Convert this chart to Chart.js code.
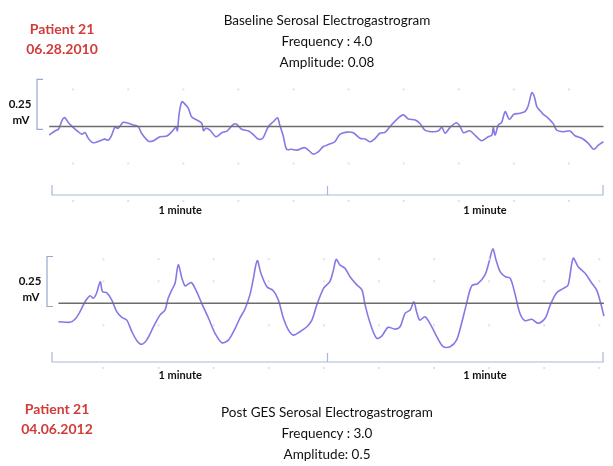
<!DOCTYPE html>
<html>
<head>
<meta charset="utf-8">
<script src="https://cdn.jsdelivr.net/npm/chart.js@4.4.1/dist/chart.umd.min.js"></script>
<style>
body{margin:0;background:#fff;}
#wrap{position:relative;width:613px;height:466px;overflow:hidden;font-family:Lato,"Open Sans",sans-serif;}
canvas{position:absolute;left:0;}
.t{position:absolute;white-space:nowrap;transform:translate(-50%,-50%);color:#111;font-size:13.5px;}
.red{color:#d03c3a;font-weight:bold;font-size:14px;}
.mv{font-weight:bold;font-size:11.5px;color:#111;}
</style>
</head>
<body>
<div id="wrap">
  <canvas id="top" width="613" height="233" style="top:0"></canvas>
  <canvas id="bottom" width="613" height="233" style="top:233px"></canvas>

  <div class="t red" style="left:62px;top:28px">Patient 21</div>
  <div class="t red" style="left:62px;top:48px">06.28.2010</div>
  <div class="t" style="left:327px;top:20px">Baseline Serosal Electrogastrogram</div>
  <div class="t" style="left:327px;top:41px">Frequency : 4.0</div>
  <div class="t" style="left:327px;top:62px">Amplitude: 0.08</div>
  <div class="t mv" style="left:20px;top:103px">0.25</div>
  <div class="t mv" style="left:21px;top:119px">mV</div>

  <div class="t mv" style="left:30px;top:280px">0.25</div>
  <div class="t mv" style="left:31px;top:296px">mV</div>
  <div class="t red" style="left:57px;top:408px">Patient 21</div>
  <div class="t red" style="left:57px;top:428px">04.06.2012</div>
  <div class="t" style="left:327px;top:412px">Post GES Serosal Electrogastrogram</div>
  <div class="t" style="left:327px;top:433px">Frequency : 3.0</div>
  <div class="t" style="left:327px;top:454px">Amplitude: 0.5</div>
</div>
<script>
// baseline recording (06.28.2010), time in seconds, signal in mV
var baseTime = [-0.6,0.7,1.4,2.3,2.8,3.6,4.6,5.7,6.5,7.2,7.9,9.0,10.5,11.5,12.3,13.0,13.7,14.4,15.5,16.6,17.7,18.8,19.5,21.0,22.1,23.5,25.0,26.1,27.0,27.3,27.7,28.3,29.1,29.7,30.4,31.5,32.6,33.0,33.5,34.4,35.7,37.0,38.1,39.5,40.2,41.3,42.8,43.8,44.9,45.9,47.1,48.2,49.1,49.6,50.4,51.1,52.2,53.3,55.1,56.9,58.0,59.1,60.5,61.6,62.7,64.2,65.6,67.1,68.2,69.3,70.4,71.4,72.5,73.6,75.1,76.5,77.6,79.1,80.1,81.2,82.7,84.1,84.9,85.6,86.7,88.1,88.9,89.6,91.0,92.1,93.6,95.0,95.8,96.1,96.5,97.2,97.9,98.7,99.6,100.6,101.9,103.0,103.7,104.5,105.0,105.6,106.3,107.0,108.1,109.2,109.9,111.4,112.8,113.9,115.4,116.8,118.0,119.0,120.1];
var baseMv = [-0.043,-0.021,-0.014,0.036,0.044,0.019,-0.004,-0.026,-0.038,-0.031,-0.059,-0.081,-0.071,-0.063,-0.068,-0.043,-0.004,-0.009,0.021,0.016,0.008,-0.001,-0.034,-0.073,-0.071,-0.051,-0.048,-0.026,-0.004,-0.021,0.066,0.124,0.108,0.091,0.049,0.033,0.016,-0.021,-0.009,-0.018,-0.051,-0.031,-0.023,0.011,0.011,-0.014,-0.023,-0.039,-0.063,-0.059,-0.001,0.024,0.044,0.008,-0.051,-0.114,-0.114,-0.118,-0.106,-0.138,-0.126,-0.100,-0.088,-0.076,-0.039,-0.028,-0.031,-0.059,-0.063,-0.076,-0.059,-0.034,-0.029,-0.001,0.036,0.058,0.038,0.033,0.016,-0.018,-0.026,-0.023,-0.004,-0.034,-0.004,0.019,-0.001,-0.031,-0.021,-0.043,-0.071,-0.051,-0.043,-0.004,-0.043,0.008,0.019,0.074,0.036,0.061,0.066,0.074,0.103,0.169,0.153,0.099,0.079,0.061,0.041,0.013,-0.018,-0.026,-0.023,-0.046,-0.059,-0.084,-0.114,-0.093,-0.076];

// post GES recording (04.06.2012)
var postTime = [1.4,3.9,5.0,6.1,7.2,8.3,9.0,9.7,10.5,11.0,11.9,13.0,14.1,15.2,16.3,17.4,18.5,19.5,20.6,22.1,23.5,24.6,25.3,26.1,26.8,27.5,28.3,29.0,29.7,30.4,31.5,32.6,34.0,35.5,37.0,38.4,39.9,40.9,42.0,43.1,43.8,44.7,45.5,46.8,48.2,49.3,50.4,51.5,52.6,54.0,55.5,56.6,57.7,59.2,60.5,61.3,61.9,62.7,63.8,64.9,66.4,67.5,68.2,69.3,70.7,71.8,73.2,74.7,75.8,76.9,78.0,78.8,79.4,80.1,81.2,82.3,83.8,85.2,86.7,88.1,89.2,90.2,91.4,92.8,94.3,95.2,96.0,96.7,97.6,98.7,99.8,100.8,101.9,103.0,104.5,105.9,107.4,108.5,109.9,111.4,112.4,113.5,114.6,116.1,117.5,118.6,119.5,120.2];
var postMv = [-0.092,-0.095,-0.080,-0.042,0.008,0.038,0.025,0.050,0.108,0.058,0.053,0.017,-0.042,-0.070,-0.084,-0.142,-0.187,-0.205,-0.184,-0.117,-0.059,-0.034,0.025,0.067,0.100,0.192,0.125,0.087,0.097,0.103,0.058,0.000,-0.070,-0.150,-0.197,-0.184,-0.125,-0.075,-0.030,0.042,0.117,0.213,0.150,0.083,0.063,0.017,-0.075,-0.134,-0.159,-0.142,-0.117,-0.084,-0.006,0.077,0.108,0.167,0.220,0.192,0.175,0.133,0.092,0.067,-0.009,-0.100,-0.175,-0.164,-0.120,-0.129,-0.117,-0.050,-0.034,0.008,-0.042,-0.084,-0.067,-0.100,-0.167,-0.217,-0.217,-0.184,-0.100,-0.009,0.087,0.100,0.142,0.208,0.272,0.217,0.158,0.133,0.125,0.050,-0.050,-0.087,-0.080,-0.100,-0.075,-0.009,0.053,0.075,0.092,0.225,0.183,0.150,0.103,0.067,0.000,-0.064];

var baseRefTime = [-0.6, 120.1];   // grey zero line, top
var postRefTime = [1.4, 120.2];    // grey zero line, bottom
var bracketTime = [0, 60, 120];    // two one-minute spans
var minuteLabelTime = [27.9, 94.3];
var minuteLabels = ['1 minute', '1 minute'];
var scaleBarMv = 0.25;
var gridTimeTop = [4.6, 16.6, 28.6, 40.6, 52.6, 64.6, 76.6, 88.6, 100.6, 112.6];
var gridMvTop = [0.185, -0.185];
var gridTimePost = [11.2, 23.2, 35.2, 47.2, 59.2, 71.2, 83.2, 95.2, 107.2, 119.2];
var gridMvPost = [0.22, 0.11, -0.11];

function pts(t, v) {
  return t.map(function (x, i) { return { x: x, y: v[i] }; });
}

var decoPlugin = {
  id: 'egg',
  afterDatasetsDraw: function (chart, args, o) {
    var ctx = chart.ctx, xs = chart.scales.x, ys = chart.scales.y;
    ctx.save();
    // faint grid dots
    ctx.fillStyle = '#e2e2e2';
    o.gridT.forEach(function (t) {
      o.gridV.forEach(function (v) {
        ctx.fillRect(xs.getPixelForValue(t) - 1, ys.getPixelForValue(v) - 1, 2, 2);
      });
      ctx.fillRect(xs.getPixelForValue(t) - 1, o.bracketY + 5, 2, 2);
    });
    // time bracket
    ctx.strokeStyle = '#a6b9d6';
    ctx.lineWidth = 1.2;
    var x0 = xs.getPixelForValue(bracketTime[0]);
    var x1 = xs.getPixelForValue(bracketTime[1]);
    var x2 = xs.getPixelForValue(bracketTime[2]);
    ctx.beginPath();
    ctx.moveTo(x0, o.bracketY - 10); ctx.lineTo(x0, o.bracketY);
    ctx.lineTo(x2, o.bracketY); ctx.lineTo(x2, o.bracketY - 10);
    ctx.moveTo(x1, o.bracketY); ctx.lineTo(x1, o.bracketY - 9);
    ctx.stroke();
    // mV scale bar
    var yl = ys.getPixelForValue(o.barLow), yh = ys.getPixelForValue(o.barLow + scaleBarMv);
    ctx.strokeStyle = '#94a9cd';
    ctx.beginPath();
    ctx.moveTo(o.barX + 6, yh); ctx.lineTo(o.barX, yh);
    ctx.lineTo(o.barX, yl); ctx.lineTo(o.barX + 6, yl);
    ctx.stroke();
    // minute labels
    ctx.fillStyle = '#111';
    ctx.font = 'bold 11px Lato, sans-serif';
    ctx.textAlign = 'center';
    ctx.textBaseline = 'middle';
    minuteLabelTime.forEach(function (t, i) {
      ctx.fillText(minuteLabels[i], xs.getPixelForValue(t), o.bracketY + o.labelGap);
    });
    ctx.restore();
  }
};

function makeChart(id, traceT, traceV, refT, pad, deco) {
  return new Chart(document.getElementById(id).getContext('2d'), {
    type: 'line',
    data: {
      datasets: [{
        data: pts(refT, [0, 0]),
        borderColor: '#6c6c6c',
        borderWidth: 1.5,
        clip: false
      }, {
        data: pts(traceT, traceV),
        borderColor: 'rgba(118,108,226,0.9)',
        borderWidth: 1.6,
        tension: 0.3,
        clip: false
      }]
    },
    options: {
      responsive: false,
      animation: false,
      layout: { padding: pad },
      elements: { point: { radius: 0 } },
      scales: {
        x: { type: 'linear', min: 0, max: 120, display: false },
        y: { min: -0.25, max: 0.25, display: false }
      },
      plugins: { legend: { display: false }, tooltip: { enabled: false }, egg: deco }
    },
    plugins: [decoPlugin]
  });
}

makeChart('top', baseTime, baseMv, baseRefTime,
  { left: 52, right: 10, top: 76.5, bottom: 56.5 },
  { bracketY: 195, labelGap: 15, barX: 37, barLow: -0.014, gridT: gridTimeTop, gridV: gridMvTop });

makeChart('bottom', postTime, postMv, postRefTime,
  { left: 52, right: 10, top: 20.3, bottom: 112.7 },
  { bracketY: 129, labelGap: 13, barX: 47, barLow: -0.016, gridT: gridTimePost, gridV: gridMvPost });
</script>
</body>
</html>
